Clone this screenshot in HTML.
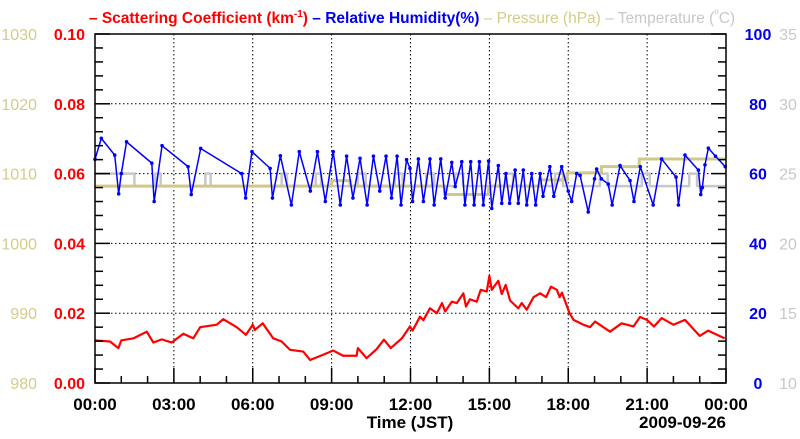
<!DOCTYPE html>
<html><head><meta charset="utf-8"><style>
body{margin:0;background:#fff;}
svg text{font-family:"Liberation Sans",Arial,sans-serif;}
</style></head><body>
<svg id="chart" width="800" height="434" xmlns="http://www.w3.org/2000/svg">
<g font-size="15.5" font-weight="bold">
<text x="412" y="23" text-anchor="middle"><tspan fill="#ff0000">– Scattering Coefficient (km<tspan font-size="10" dy="-6">-1</tspan><tspan dy="6">)</tspan></tspan><tspan fill="#0000ee"> – Relative Humidity(%)</tspan><tspan fill="#d4cc88" font-weight="normal"> – Pressure (hPa)</tspan><tspan fill="#c8c8c8" font-weight="normal"> – Temperature (<tspan font-size="8" dy="-9">o</tspan><tspan dy="9">C)</tspan></tspan></text>
</g>
<g id="grid"></g>
<g id="series"></g>
<g id="axes"></g>
</svg>
<script>
// ---- data ----
const xTickLabels = ["00:00","03:00","06:00","09:00","12:00","15:00","18:00","21:00","00:00"];
const scatTicks = ["0.00","0.02","0.04","0.06","0.08","0.10"];
const presTicks = ["980","990","1000","1010","1020","1030"];
const rhTicks = ["0","20","40","60","80","100"];
const tempTicks = ["10","15","20","25","30","35"];

const scatHours = [0,0.57,0.89,1.0,1.46,1.97,2.22,2.54,2.92,3.36,3.74,4.0,4.63,4.88,5.39,5.74,6.0,6.08,6.38,6.78,7.1,7.42,7.92,8.18,8.68,9.06,9.44,9.95,10.0,10.33,10.71,10.99,11.25,11.67,11.98,12.08,12.36,12.49,12.74,13.0,13.2,13.32,13.57,13.76,14.01,14.11,14.26,14.52,14.67,14.9,15.0,15.09,15.34,15.47,15.62,15.79,16.1,16.23,16.42,16.68,16.93,17.16,17.34,17.57,17.67,17.76,18.05,18.2,18.58,18.83,19.02,19.59,20.03,20.48,20.73,20.99,21.26,21.55,22.0,22.44,23.0,23.32,23.95];
const scatValues = [0.0122,0.0119,0.010,0.0122,0.0128,0.0147,0.0116,0.0125,0.0116,0.0141,0.0128,0.016,0.0167,0.0183,0.016,0.0138,0.0167,0.0152,0.0171,0.0128,0.0119,0.0095,0.009,0.0066,0.0081,0.0093,0.0078,0.0078,0.010,0.0071,0.0097,0.0124,0.010,0.0128,0.0162,0.015,0.019,0.018,0.0214,0.020,0.0229,0.0205,0.0233,0.0229,0.0257,0.0219,0.024,0.0233,0.0267,0.0262,0.0307,0.0267,0.0293,0.0255,0.0281,0.0236,0.0214,0.0229,0.021,0.0246,0.0257,0.0246,0.0276,0.0267,0.0246,0.0259,0.020,0.0181,0.0167,0.016,0.0176,0.0147,0.0171,0.0162,0.0189,0.0181,0.0162,0.0186,0.0167,0.0181,0.0135,0.015,0.0128];

const rhHours = [0,0.24,0.75,0.9,1.0,1.2,2.16,2.25,2.55,3.54,3.66,4.02,5.58,5.73,5.97,6.66,6.75,7.05,7.47,7.77,8.19,8.46,8.76,9.06,9.33,9.57,9.81,10.08,10.35,10.59,10.83,11.07,11.28,11.49,11.64,11.85,11.98,12.08,12.3,12.49,12.74,12.9,13.15,13.32,13.57,13.7,13.95,14.07,14.29,14.42,14.62,14.77,14.97,15.09,15.34,15.47,15.63,15.77,15.98,16.1,16.29,16.42,16.61,16.76,16.93,17.04,17.3,17.45,17.75,18.0,18.13,18.32,18.45,18.76,19.0,19.08,19.26,19.52,19.67,19.97,20.35,20.5,20.74,21.23,21.55,22.1,22.19,22.44,22.95,23.04,23.1,23.2,23.33,23.6,23.97];
const rhValues = [64.1,70.1,65.3,54.2,60,69.1,63,52,68,62,54,67.2,60,53,66.3,61.5,53,65.1,51,66.3,55,66.3,52,66.3,51,65,53,64.4,51,65,55,65,53,65,51,64,61.5,52,64.2,52,64.2,51,64.2,53,63.2,56.3,63.4,51,63.4,51,63.4,51,63.6,50,62.3,51.5,60,51.5,61,51.5,61,51,60,51,60,53.5,62,53.5,62,55,52,60,59.5,49,58.5,61.3,58.5,57,51,62.3,58,52,62,51,64.2,59,51,65.3,61,54,56,62.5,67.3,65,62];

const presHours = [0,8.7,9.0,9.4,9.7,13.3,14.97,16.9,17.96,19.26,20.7,24];
const presValues = [1008.2,1008.2,1009,1009,1008.2,1007.0,1008.2,1009.1,1010.1,1011.0,1012.1,1012.1];

const tempHours = [0,1.3,1.5,2.3,2.5,4.2,4.4,7.1,7.3,8.4,8.6,10.0,10.3,11.4,11.7,12.6,12.9,13.7,14.0,15.6,15.9,17.5,17.8,19.2,19.5,20.8,21.1,22.6,22.9,24];
const tempValues = [25,25,24.1,25,24.1,25,24.1,25,24.1,25,24.1,25,24.1,25,24.1,25,24.1,25,24.1,25,24.1,25,24.1,25,24.1,25,24.1,25,24.1,24.1];

// ---- layout ----
const L=95,R=726,T=34,B=383;
const NS='http://www.w3.org/2000/svg';
const xScale=h=>L+(R-L)*h/24;
const yScat=v=>B-(B-T)*v/0.1;
const yRh=v=>B-(B-T)*v/100;
const yPres=v=>B-(B-T)*(v-980)/50;
const yTemp=v=>B-(B-T)*(v-10)/25;
function mk(tag,attrs,parent){const e=document.createElementNS(NS,tag);for(const k in attrs)e.setAttribute(k,attrs[k]);parent.appendChild(e);return e;}
const grid=document.getElementById('grid'),series=document.getElementById('series'),axes=document.getElementById('axes');

for(let i=1;i<8;i++){const x=xScale(i*3);
 const g=mk('line',{x1:x,x2:x,y1:T,y2:B,stroke:'#000','stroke-width':1,'stroke-dasharray':'1.5,2.5'},grid);
 
 }
for(let i=1;i<5;i++){const y=yScat(i*0.02);
 const g=mk('line',{x1:L,x2:R,y1:y,y2:y,stroke:'#000','stroke-width':1,'stroke-dasharray':'1.5,2.5'},grid);
 
 }

function line(hours,vals,ys,color,w,name,step,dots){
 let d='';hours.forEach((h,i)=>{const x=xScale(h),y=ys(vals[i]);
  if(i===0)d+='M'+x+','+y;else{ if(step){d+='H'+x+'V'+y;} else d+='L'+x+','+y;}});
 const p=mk('path',{d:d,fill:'none',stroke:color,'stroke-width':w,'stroke-linejoin':'round'},series);
 
 
 if(dots){hours.forEach((h,i)=>{const c=mk('circle',{cx:xScale(h),cy:ys(vals[i]),r:1.8,fill:color},series);
  
  });}
}
line(tempHours,tempValues,yTemp,'#c8c8c8',2.5,'temperature-line',true,false);
line(presHours,presValues,yPres,'#d0c888',3,'pressure-line',true,false);
line(rhHours,rhValues,yRh,'#0000ff',1.5,'humidity-line',false,true);
line(scatHours,scatValues,yScat,'#ff0000',2.2,'scattering-line',false,false);

const fr=mk('rect',{x:L,y:T,width:R-L,height:B-T,fill:'none',stroke:'#000','stroke-width':1.5},axes);


for(let i=0;i<=25;i++){const y=B-(B-T)*i/25;const len=(i%5===0)?15:8;
 const a=mk('line',{x1:L,x2:L+len,y1:y,y2:y,stroke:'#000','stroke-width':1.5},axes);
 
 
 const b=mk('line',{x1:R,x2:R-len,y1:y,y2:y,stroke:'#000','stroke-width':1.5},axes);
 
 }
for(let i=0;i<=24;i++){const x=xScale(i);const len=(i%3===0)?15:7;
 const a=mk('line',{x1:x,x2:x,y1:B,y2:B-len,stroke:'#000','stroke-width':1.5},axes);
 
 }
function txt(s,x,y,attrs,name){const t=mk('text',Object.assign({x:x,y:y},attrs),axes);t.textContent=s;
 
 }
for(let i=0;i<6;i++){const y=yScat(i*0.02)+6;
 txt(scatTicks[i],85,y,{'text-anchor':'end',fill:'#ff0000','font-size':16,'font-weight':'bold'},'scattering-tick-label');
 txt(presTicks[i],37,y,{'text-anchor':'end',fill:'#d4cc88','font-size':16},'pressure-tick-label');
 txt(rhTicks[i],758,y,{'text-anchor':'middle',fill:'#0000ee','font-size':16,'font-weight':'bold'},'humidity-tick-label');
 txt(tempTicks[i],788,y,{'text-anchor':'middle',fill:'#c8c8c8','font-size':16},'temperature-tick-label');}
xTickLabels.forEach((s,i)=>txt(s,xScale(i*3),410,{'text-anchor':'middle',fill:'#000','font-size':17,'font-weight':'bold'},'x-tick-label'));
txt('Time (JST)',410,428,{'text-anchor':'middle',fill:'#000','font-size':17,'font-weight':'bold'},'x-axis-title');
txt('2009-09-26',726,428,{'text-anchor':'end',fill:'#000','font-size':17,'font-weight':'bold'},'date-label');
</script>
</body></html>
